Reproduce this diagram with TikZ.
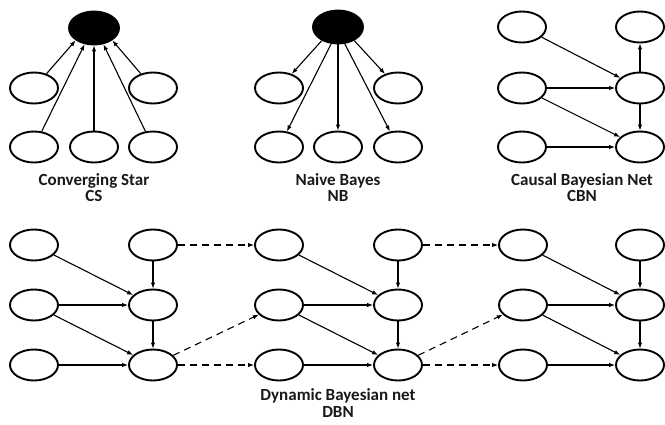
\documentclass[tikz,border=0pt]{standalone}
\usepackage{fontspec}
\setmainfont{Carlito}
\usepackage{tikz}
\usetikzlibrary{shapes,arrows.meta}

\begin{document}
\begin{tikzpicture}[x=1pt, y=-1pt,
	oval/.style={ellipse, draw, line width=1.9pt, minimum width=48pt, minimum height=31pt, inner sep=0},
	hidden/.style={oval, fill=black, minimum width=50pt, minimum height=33pt},
	arr/.style={-{Latex[length=6pt,width=4.5pt]}, line width=1.1pt},
	dsh/.style={arr, dash pattern=on 7pt off 5pt},
	lbl/.style={font=\fontsize{17}{17}\selectfont\bfseries, text=black!90, inner sep=0, anchor=base}
]
\useasboundingbox (0,0) rectangle (665,424);
%converging star
\node[hidden] (cs) at (94,28) {};
\node[oval] (c1) at (34,88) {};
\node[oval] (c2) at (153,88) {};
\node[oval] (c3) at (34,147) {};
\node[oval] (c4) at (94,147) {};
\node[oval] (c5) at (153,147) {};
\draw[arr] (c1) -- (cs.214);
\draw[arr] (c3) -- (cs.240);
\draw[arr] (c4) -- (cs.270);
\draw[arr] (c5) -- (cs.300);
\draw[arr] (c2) -- (cs.326);
\node[lbl] (csname) at (94,185) {Converging Star};
\node[lbl] (csshort) at (94,201.5) {CS};

%naive bayes
\node[hidden] (nb) at (338,27) {};
\node[oval] (n1) at (279,88) {};
\node[oval] (n2) at (398,88) {};
\node[oval] (n3) at (279,147) {};
\node[oval] (n4) at (338,147) {};
\node[oval] (n5) at (398,147) {};
\draw[arr] (nb.220) -- (n1);
\draw[arr] (nb.248) -- (n3);
\draw[arr] (nb.270) -- (n4);
\draw[arr] (nb.292) -- (n5);
\draw[arr] (nb.320) -- (n2);
\node[lbl] (nbname) at (338,185) {Naive Bayes};
\node[lbl] (nbshort) at (338,201.5) {NB};

%causal bayesian net
\node[oval] (b1) at (522,27) {};
\node[oval] (b2) at (522,88) {};
\node[oval] (b3) at (522,147) {};
\node[oval] (b4) at (640,27) {};
\node[oval] (b5) at (640,88) {};
\node[oval] (b6) at (640,147) {};
\draw[arr] (b1) -- (b5);
\draw[arr] (b2) -- (b5);
\draw[arr] (b2) -- (b6);
\draw[arr] (b3) -- (b6);
\draw[arr] (b5) -- (b4);
\draw[arr] (b5) -- (b6);
\node[lbl] (cbnname) at (582,185) {Causal Bayesian Net};
\node[lbl] (cbnshort) at (582,201.5) {CBN};

%dynamic bayesian net
\node[oval] (d11) at (34,245) {};
\node[oval] (d12) at (34,305) {};
\node[oval] (d13) at (34,365) {};
\node[oval] (d21) at (153,245) {};
\node[oval] (d22) at (153,305) {};
\node[oval] (d23) at (153,365) {};
\node[oval] (d31) at (279,245) {};
\node[oval] (d32) at (279,305) {};
\node[oval] (d33) at (279,365) {};
\node[oval] (d41) at (398,245) {};
\node[oval] (d42) at (398,305) {};
\node[oval] (d43) at (398,365) {};
\node[oval] (d51) at (523,245) {};
\node[oval] (d52) at (523,305) {};
\node[oval] (d53) at (523,365) {};
\node[oval] (d61) at (640,245) {};
\node[oval] (d62) at (640,305) {};
\node[oval] (d63) at (640,365) {};
\draw[arr] (d11) -- (d22);
\draw[arr] (d12) -- (d22);
\draw[arr] (d12) -- (d23);
\draw[arr] (d13) -- (d23);
\draw[arr] (d21) -- (d22);
\draw[arr] (d22) -- (d23);
\draw[dsh] (d21) -- (d31);
\draw[dsh] (d23) -- (d32);
\draw[dsh] (d23) -- (d33);
\draw[arr] (d31) -- (d42);
\draw[arr] (d32) -- (d42);
\draw[arr] (d32) -- (d43);
\draw[arr] (d33) -- (d43);
\draw[arr] (d41) -- (d42);
\draw[arr] (d42) -- (d43);
\draw[dsh] (d41) -- (d51);
\draw[dsh] (d43) -- (d52);
\draw[dsh] (d43) -- (d53);
\draw[arr] (d51) -- (d62);
\draw[arr] (d52) -- (d62);
\draw[arr] (d52) -- (d63);
\draw[arr] (d53) -- (d63);
\draw[arr] (d61) -- (d62);
\draw[arr] (d62) -- (d63);
\node[lbl] (dbnname) at (338,400) {Dynamic Bayesian net};
\node[lbl] (dbnshort) at (338,417) {DBN};
\end{tikzpicture}
\end{document}
